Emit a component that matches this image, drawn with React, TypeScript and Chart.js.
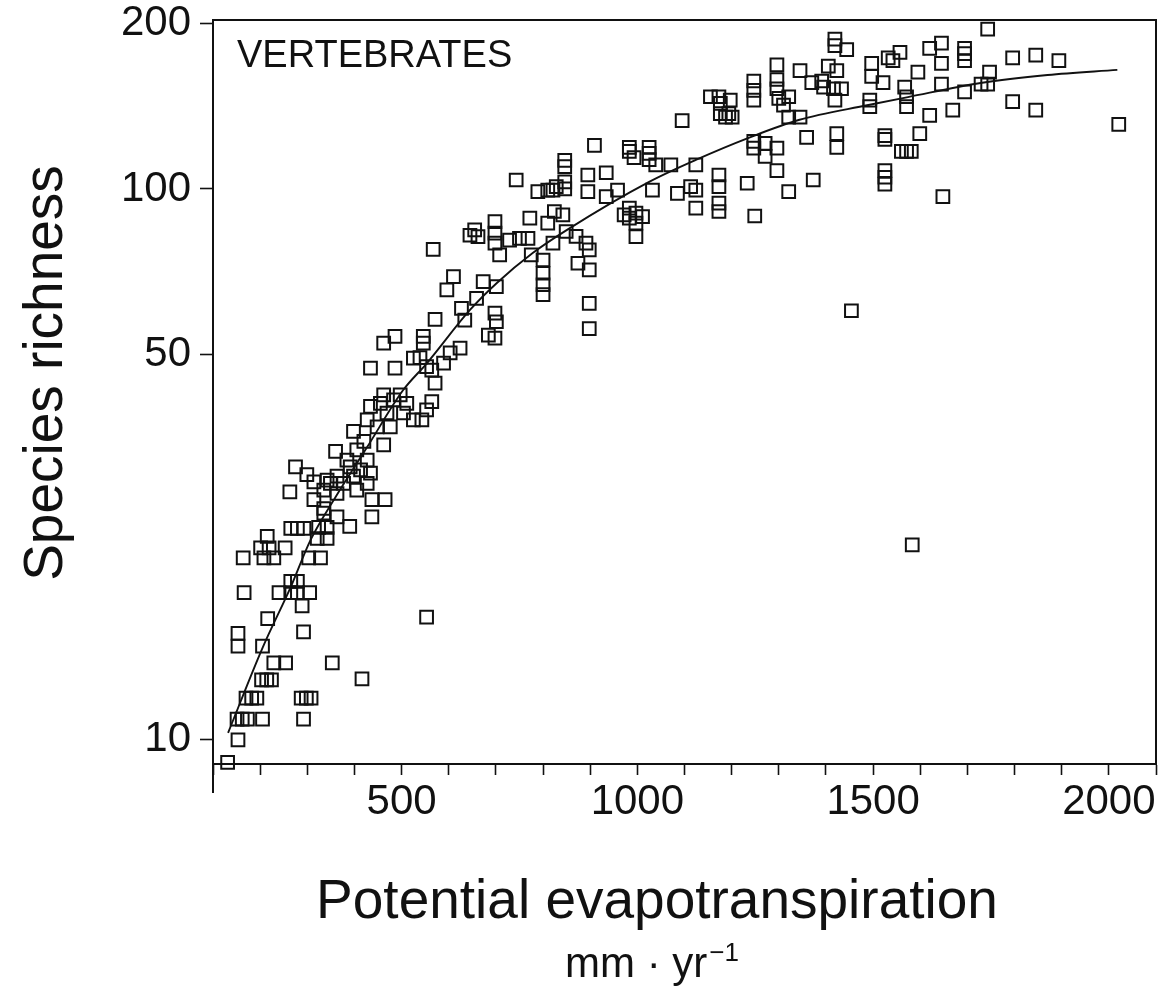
import React, { useEffect, useRef } from "react";
import { Chart, registerables } from "chart.js";

Chart.register(...registerables);

// ---- DATA ----
const xTickLabels = [500, 1000, 1500, 2000];
const yTickValues = [10, 50, 100, 200];

// [PET (mm/yr), species richness]
const coldSites: [number, number][] = [
  [131, 9.1], [153, 10.0], [151, 10.9], [162, 10.9], [173, 10.9], [205, 10.9], [292, 10.9],
  [170, 11.9], [182, 11.9], [193, 11.9], [287, 11.9], [298, 11.9], [308, 11.9],
  [203, 12.85], [214, 12.85], [224, 12.85], [416, 12.9], [353, 13.8], [229, 13.8], [254, 13.8],
  [205, 14.8], [153, 14.8], [153, 15.6], [292, 15.7], [553, 16.7], [216, 16.6], [289, 17.5],
  [166, 18.5], [240, 18.5], [265, 19.4], [279, 19.4], [265, 18.5], [279, 18.5], [305, 18.5],
  [164, 21.4], [208, 21.4], [229, 21.4], [303, 21.4], [328, 21.4],
  [201, 22.3], [219, 22.3], [253, 22.3], [215, 23.4], [265, 24.2], [279, 24.2], [293, 24.2],
  [324, 24.3], [342, 24.3], [321, 23.2], [342, 23.2], [390, 24.4], [363, 25.4],
  [335, 25.8], [335, 26.3], [437, 25.4], [437, 27.3], [465, 27.3], [314, 27.3], [263, 28.2],
];

const temperateSites: [number, number][] = [
  [275, 31.3], [299, 30.3], [314, 29.4],
  [360, 33.4], [384, 32.2], [405, 33.6], [427, 32.2], [363, 30.1], [349, 29.2], [377, 29.2],
  [398, 30.1], [413, 30.9], [434, 30.5], [405, 28.4], [427, 29.2], [391, 31.3], [420, 34.8],
  [462, 34.3], [398, 36.3], [427, 38.1], [448, 37.0], [476, 37.0], [434, 40.3], [455, 40.8],
  [462, 42.3], [483, 41.4], [497, 42.3], [511, 40.8], [469, 39.2], [504, 39.2], [525, 38.1],
  [543, 38.1], [553, 39.7], [564, 41.1], [342, 29.6], [335, 28.4], [363, 28.0],
  [434, 47.3], [486, 47.3], [462, 52.5], [486, 54.0], [546, 54.0], [546, 52.5], [525, 49.3],
  [553, 47.6], [564, 46.9], [571, 44.4], [589, 48.3], [603, 50.4], [624, 51.4], [539, 49.4],
  [571, 58.0], [596, 65.6], [610, 69.3], [627, 60.7], [634, 57.8], [673, 67.9], [659, 63.3],
  [701, 66.5], [698, 59.5], [701, 57.4], [684, 54.3], [698, 53.6], [775, 75.9], [800, 74.3],
  [800, 70.3], [800, 67.0], [800, 64.3], [874, 73.3], [898, 77.5], [898, 71.3], [898, 62.0],
  [898, 55.8], [821, 79.7], [849, 83.7], [708, 75.9], [567, 77.7],
];

const warmSites: [number, number][] = [
  [645, 82.4], [662, 81.9], [655, 84.3], [698, 87.2], [698, 83.1], [698, 79.7], [729, 80.7],
  [750, 81.3], [768, 81.3], [772, 88.5], [810, 86.7], [824, 91.0], [842, 89.7], [870, 82.0],
  [891, 79.7], [821, 99.5], [846, 103], [846, 100], [828, 101], [789, 98.9], [810, 99.5],
  [743, 103.8], [846, 112.7], [846, 109.8], [895, 106], [895, 98.9], [934, 107], [909, 120],
  [934, 96.8], [958, 99.5], [983, 117], [993, 114], [983, 119], [972, 89.7], [983, 88.5],
  [997, 90.4], [1011, 89.1], [997, 86.7], [983, 92.3], [997, 81.9],
];

const hotSites: [number, number][] = [
  [1025, 119], [1025, 116], [1025, 113], [1039, 110.6], [1071, 110.6], [1124, 110.6],
  [1032, 99.5], [1085, 98.2], [1113, 101], [1124, 99.5], [1124, 92.3], [1173, 106],
  [1173, 101], [1173, 94.2], [1173, 91.0], [1233, 102.4], [1249, 89.3], [1321, 98.9],
  [1373, 103.8], [1359, 124], [1423, 126], [1423, 119], [1247, 122], [1247, 118.6],
  [1271, 121], [1296, 118.6], [1296, 108], [1271, 114.6], [1095, 133], [1173, 147],
  [1176, 143], [1176, 137], [1194, 137], [1197, 145], [1155, 147], [1187, 135], [1201, 135],
  [1247, 157], [1247, 151], [1247, 145], [1296, 168], [1296, 158], [1296, 152], [1300, 146],
  [1321, 147], [1310, 142], [1345, 164], [1370, 156], [1321, 135], [1345, 135], [1405, 167],
  [1423, 164], [1391, 157], [1395, 153], [1416, 152], [1433, 152], [1419, 145], [1419, 187],
  [1419, 182], [1444, 179], [1497, 169], [1497, 160], [1521, 156], [1542, 171], [1532, 173],
  [1557, 177], [1595, 163], [1567, 153], [1571, 147], [1571, 141], [1493, 145], [1493, 141],
  [1525, 125], [1525, 123], [1571, 117], [1560, 117], [1581, 117], [1599, 126], [1525, 108],
  [1525, 105], [1525, 102], [1620, 180], [1645, 184], [1645, 169], [1645, 155], [1620, 136],
  [1669, 139], [1648, 96.8], [1694, 180], [1694, 176], [1694, 171], [1694, 150], [1743, 195],
  [1747, 163], [1729, 155], [1743, 155], [1796, 173], [1845, 175], [1894, 171], [1796, 144],
  [1845, 139], [2021, 131],
];

const outlierSites: [number, number][] = [
  [1454, 60.1], [1583, 22.6],
];

// fitted curve
const curvePet = [132, 206, 265, 307, 360, 427, 503, 554, 645, 702, 778, 850, 1025, 1124, 1236, 1342, 1490, 1574, 1728, 1870, 2018];
const curveRichness = [10.3, 14.75, 18.95, 23.07, 27.6, 34.0, 43.1, 48.3, 60.3, 67.5, 76.5, 84.2, 103, 112.9, 123.8, 133.4, 142, 146.8, 155.7, 161, 164.5];

const FONT = '"Liberation Sans", Arial, sans-serif';
const INK = "#111";

const annotatePlugin = {
  id: "annotate",
  afterDraw(chart: any) {
    const { ctx, chartArea: a } = chart;
    ctx.save();
    ctx.strokeStyle = INK;
    ctx.lineWidth = 2;
    ctx.strokeRect(a.left, a.top, a.right - a.left, a.bottom - a.top);
    ctx.beginPath();
    ctx.moveTo(a.left, a.bottom);
    ctx.lineTo(a.left, a.bottom + 29);
    ctx.stroke();

    ctx.fillStyle = INK;
    ctx.textBaseline = "alphabetic";

    ctx.font = `38px ${FONT}`;
    ctx.textAlign = "left";
    ctx.fillText("VERTEBRATES", 237, 67);

    ctx.font = `55px ${FONT}`;
    ctx.textAlign = "center";
    ctx.fillText("Potential evapotranspiration", 657, 918);

    ctx.save();
    ctx.translate(62, 373);
    ctx.rotate(-Math.PI / 2);
    ctx.fillText("Species richness", 0, 0);
    ctx.restore();

    ctx.font = `42px ${FONT}`;
    const main = "mm \u00b7 yr";
    const w1 = ctx.measureText(main).width;
    ctx.font = `26px ${FONT}`;
    const sup = "\u22121";
    const w2 = ctx.measureText(sup).width;
    const start = 652 - (w1 + w2 + 2) / 2;
    ctx.textAlign = "left";
    ctx.font = `42px ${FONT}`;
    ctx.fillText(main, start, 977);
    ctx.font = `26px ${FONT}`;
    ctx.fillText(sup, start + w1 + 2, 961);
    ctx.restore();
  },
};

export default function App() {
  const ref = useRef<HTMLCanvasElement | null>(null);

  useEffect(() => {
    if (!ref.current) return;
    const sites = [...coldSites, ...temperateSites, ...warmSites, ...hotSites, ...outlierSites].map(
      ([x, y]) => ({ x, y })
    );
    const curve = curvePet.map((x, i) => ({ x, y: curveRichness[i] }));

    const chart = new Chart(ref.current, {
      type: "scatter",
      data: {
        datasets: [
          {
            label: "Fit",
            data: curve,
            showLine: true,
            borderColor: INK,
            borderWidth: 1.9,
            pointRadius: 0,
            cubicInterpolationMode: "monotone",
            fill: false,
          } as any,
          {
            label: "Sites",
            data: sites,
            pointStyle: "rect",
            pointRadius: 9,
            pointBorderWidth: 2,
            borderColor: INK,
            backgroundColor: "rgba(0,0,0,0)",
            clip: false,
          } as any,
        ],
      },
      options: {
        responsive: false,
        maintainAspectRatio: false,
        devicePixelRatio: 1,
        animation: false,
        events: [],
        layout: { padding: { top: 20, right: 6, left: 0, bottom: 0 } },
        plugins: { legend: { display: false }, tooltip: { enabled: false }, title: { display: false } },
        scales: {
          x: {
            type: "linear",
            min: 100,
            max: 2100,
            afterFit: (s: any) => {
              s.height = 222;
              s.paddingLeft = 0;
              s.paddingRight = 0;
            },
            grid: {
              drawOnChartArea: false,
              drawTicks: true,
              tickLength: 11,
              color: INK,
              tickColor: INK,
              tickWidth: 1.6,
            },
            border: { display: true, color: INK, width: 2 },
            ticks: {
              stepSize: 100,
              autoSkip: false,
              maxRotation: 0,
              padding: 2,
              color: INK,
              font: { family: FONT, size: 42, lineHeight: 1.2 },
              callback: (v: any) => (xTickLabels.includes(Number(v)) ? String(v) : ""),
            },
          },
          y: {
            type: "logarithmic",
            min: 9.04,
            max: 202.6,
            afterBuildTicks: (s: any) => {
              s.ticks = yTickValues.map((v) => ({ value: v }));
            },
            afterFit: (s: any) => {
              s.width = 213;
              s.paddingTop = 0;
              s.paddingBottom = 0;
            },
            grid: {
              drawOnChartArea: false,
              drawTicks: true,
              tickLength: 13,
              color: INK,
              tickColor: INK,
              tickWidth: 1.6,
            },
            border: { display: true, color: INK, width: 2 },
            ticks: {
              autoSkip: false,
              padding: 9,
              color: INK,
              font: { family: FONT, size: 42, lineHeight: 1.2 },
              callback: (v: any) => String(v),
            },
          },
        },
      },
      plugins: [annotatePlugin],
    });
    return () => chart.destroy();
  }, []);

  return (
    <div style={{ position: "absolute", left: 0, top: 0, width: 1167, height: 986, background: "#fff" }}>
      <canvas ref={ref} width={1167} height={986} style={{ display: "block" }} />
    </div>
  );
}
